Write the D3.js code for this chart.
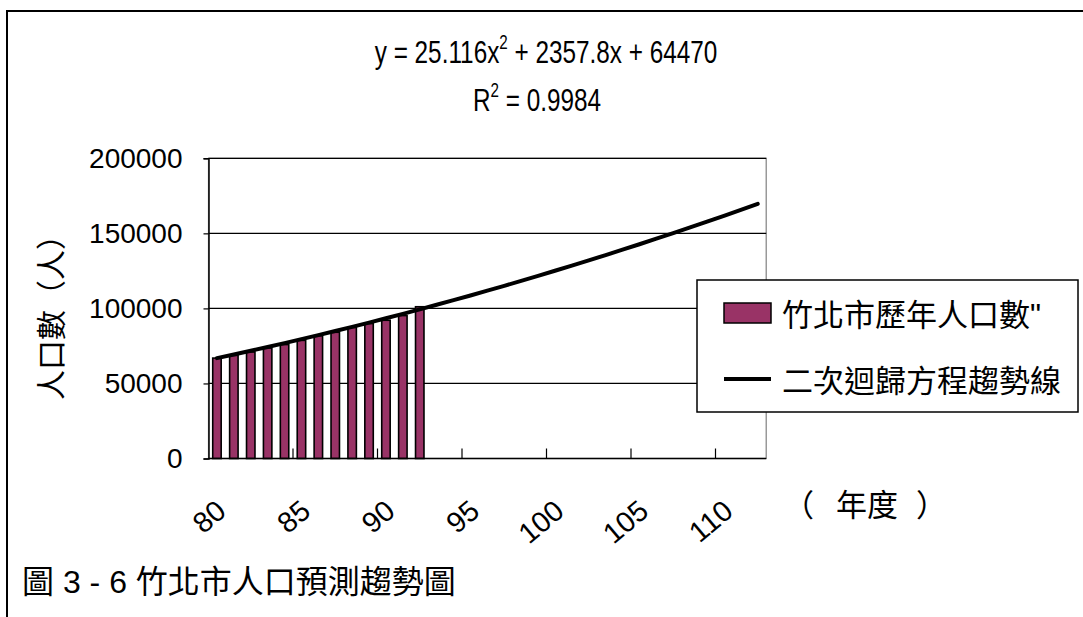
<!DOCTYPE html>
<html>
<head>
<meta charset="utf-8">
<script src="https://cdn.jsdelivr.net/npm/d3@7"></script>
<style>
  body { margin: 0; background: #fff; }
  svg { display: block; }
  text { font-family: "Liberation Sans", Arial, "Noto Sans CJK TC", sans-serif; fill: #000; }
</style>
</head>
<body>
<svg id="chart" width="1083" height="617"></svg>
<script>
// 年度 (民國) categories on the horizontal axis
const categories = ["80","81","82","83","84","85","86","87","88","89","90",
  "91","92","93","94","95","96","97","98","99","100","101","102","103","104",
  "105","106","107","108","109","110","111","112"];

// 竹北市歷年人口數 (80–92)
const population = [66900, 68700, 71000, 73600, 75900, 78700, 81800,
  84100, 87300, 89900, 92100, 95200, 101100];

// 二次迴歸方程趨勢線 values, one per year (80–112)
const trend = [66853, 69286, 71769, 74303, 76887, 79521, 82205, 84940,
  87725, 90560, 93445, 96380, 99366, 102402, 105488, 108625, 111811,
  115048, 118335, 121672, 125060, 128498, 131986, 135524, 139113,
  142751, 146440, 150179, 153969, 157808, 161698, 165638, 169629];

const yTicks = [0, 50000, 100000, 150000, 200000];
const xTickLabels = ["80","85","90","95","100","105","110"];

const seriesNames = ["竹北市歷年人口數\"", "二次迴歸方程趨勢線"];
const equationText = ["y = 25.116x", "2", " + 2357.8x + 64470"];
const r2Text = ["R", "2", " = 0.9984"];
const yTitle = "人口數（人）";
const xTitleParts = ["（", "年度", "）"];
const caption = "圖 3 - 6 竹北市人口預測趨勢圖";

const svg = d3.select("#chart");
const plot = { left: 208.5, top: 158.3, width: 557.7, height: 300.2 };
const barColor = "#993366";

// outer frame (left and top edges)
svg.append("path")
  .attr("d", "M7,617 V11 H1083")
  .attr("fill", "none").attr("stroke", "#000").attr("stroke-width", 2);

const x = d3.scaleBand().domain(categories)
  .range([plot.left, plot.left + plot.width]).padding(0);
const y = d3.scaleLinear().domain([0, 200000])
  .range([plot.top + plot.height, plot.top]);
const bw = x.bandwidth();

// plot area border
svg.append("rect")
  .attr("x", plot.left).attr("y", plot.top)
  .attr("width", plot.width).attr("height", plot.height)
  .attr("fill", "#fff").attr("stroke", "#808080").attr("stroke-width", 1.2);

// horizontal gridlines
svg.append("g").selectAll("line")
  .data(yTicks.filter(d => d > 0))
  .join("line")
  .attr("x1", plot.left).attr("x2", plot.left + plot.width)
  .attr("y1", d => y(d)).attr("y2", d => y(d))
  .attr("stroke", "#000").attr("stroke-width", 1.2);

// bars
svg.append("g").selectAll("rect")
  .data(population)
  .join("rect")
  .attr("x", (d, i) => x(categories[i]) + bw * 0.25)
  .attr("width", bw * 0.5)
  .attr("y", d => y(d))
  .attr("height", d => y(0) - y(d))
  .attr("fill", barColor)
  .attr("stroke", "#000")
  .attr("stroke-width", 1.6);

// trend line
const line = d3.line()
  .x((d, i) => x(categories[i]) + bw / 2)
  .y(d => y(d));
svg.append("path")
  .datum(trend)
  .attr("d", line)
  .attr("fill", "none")
  .attr("stroke", "#000")
  .attr("stroke-width", 4)
  .attr("stroke-linejoin", "round")
  .attr("stroke-linecap", "round");

// y axis
const yAxis = svg.append("g")
  .attr("transform", `translate(${plot.left},0)`)
  .call(d3.axisLeft(y).tickValues(yTicks).tickSize(5).tickPadding(21)
    .tickFormat(d3.format("d")));
yAxis.select(".domain").attr("stroke", "#000").attr("stroke-width", 1.5);
yAxis.selectAll(".tick line").attr("stroke", "#000").attr("stroke-width", 1.2);
yAxis.selectAll(".tick text")
  .attr("font-size", 28)
  .style("font-family", "'Liberation Sans', Arial, sans-serif");

// x axis line and inner tick marks every five years
svg.append("line")
  .attr("x1", plot.left).attr("x2", plot.left + plot.width)
  .attr("y1", y(0)).attr("y2", y(0))
  .attr("stroke", "#000").attr("stroke-width", 1.5);
svg.append("g").selectAll("line")
  .data(categories.filter((d, i) => i > 0 && i % 5 === 0))
  .join("line")
  .attr("x1", d => x(d)).attr("x2", d => x(d))
  .attr("y1", y(0)).attr("y2", y(0) - 10)
  .attr("stroke", "#000").attr("stroke-width", 1.2);

// rotated x tick labels
svg.append("g").selectAll("text")
  .data(xTickLabels)
  .join("text")
  .attr("transform", d => `translate(${x(d) + bw / 2 + 11},514) rotate(-40)`)
  .attr("text-anchor", "end")
  .attr("font-size", 29)
  .text(d => d);

// regression equation
function supText(parts, cx, by, sx) {
  const g = svg.append("g").attr("transform", `translate(${cx},${by}) scale(${sx},1)`);
  const t = g.append("text").attr("text-anchor", "middle").attr("font-size", 32);
  t.append("tspan").text(parts[0]);
  t.append("tspan").attr("dy", -14).attr("font-size", 20).text(parts[1]);
  t.append("tspan").attr("dy", 14).text(parts[2]);
}
supText(equationText, 546, 63, 0.76);
supText(r2Text, 537, 111, 0.76);

// axis titles
svg.append("text")
  .attr("transform", "translate(51,310) rotate(-90)")
  .attr("text-anchor", "middle")
  .attr("dominant-baseline", "central")
  .attr("font-size", 30)
  .text(yTitle);

const xt = svg.append("text")
  .attr("x", 783).attr("y", 505)
  .attr("dominant-baseline", "central")
  .attr("font-size", 31);
xt.append("tspan").text(xTitleParts[0]);
xt.append("tspan").attr("dx", 22).text(xTitleParts[1]);
xt.append("tspan").attr("dx", 18).text(xTitleParts[2]);

// legend
const lg = svg.append("g");
lg.append("rect")
  .attr("x", 697).attr("y", 280).attr("width", 381).attr("height", 132)
  .attr("fill", "#fff").attr("stroke", "#000").attr("stroke-width", 1.5);
lg.append("rect")
  .attr("x", 724).attr("y", 303).attr("width", 47).attr("height", 20)
  .attr("fill", barColor).attr("stroke", "#000").attr("stroke-width", 1.5);
lg.append("line")
  .attr("x1", 724).attr("x2", 771).attr("y1", 379).attr("y2", 379)
  .attr("stroke", "#000").attr("stroke-width", 4);
lg.selectAll("text.item")
  .data(seriesNames)
  .join("text")
  .attr("class", "item")
  .attr("x", 782)
  .attr("y", (d, i) => i === 0 ? 315 : 381)
  .attr("dominant-baseline", "central")
  .attr("font-size", 31)
  .text(d => d);

// caption
svg.append("text")
  .attr("x", 22).attr("y", 582)
  .attr("dominant-baseline", "central")
  .attr("font-size", 32)
  .text(caption);
</script>
</body>
</html>
